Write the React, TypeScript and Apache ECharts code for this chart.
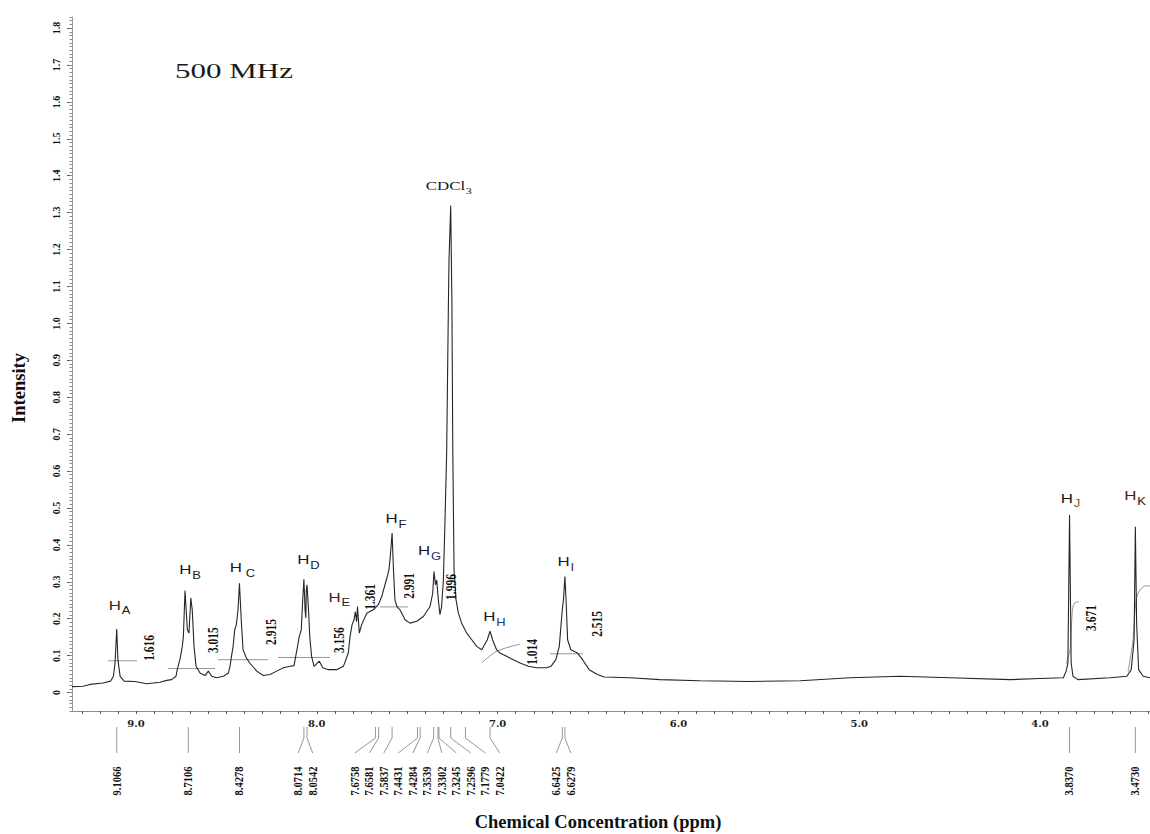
import React, { useEffect, useRef } from "react";
import * as echarts from "echarts";

// 1H NMR spectrum, 500 MHz in CDCl3: intensity against chemical shift (ppm)

const X_MIN = 3.392;
const X_MAX = 9.354;
const Y_MIN = -0.05;
const Y_MAX = 1.83;

// spectrum trace, [ppm, intensity], high field last
const traceHA: [number, number][] = [
  [9.354, 0.016], [9.293, 0.017], [9.254, 0.022], [9.183, 0.026], [9.166, 0.028],
  [9.14, 0.031], [9.125, 0.044], [9.116, 0.08], [9.1066, 0.172], [9.1, 0.089],
  [9.088, 0.044], [9.066, 0.031], [9.006, 0.03], [8.941, 0.024], [8.867, 0.028],
  [8.83, 0.033], [8.803, 0.035], [8.779, 0.044],
];
const traceHB: [number, number][] = [
  [8.772, 0.062], [8.757, 0.089], [8.744, 0.125], [8.738, 0.152], [8.729, 0.276],
  [8.716, 0.17], [8.707, 0.161], [8.697, 0.256], [8.689, 0.224], [8.679, 0.125],
  [8.668, 0.071], [8.646, 0.053], [8.618, 0.046], [8.6, 0.058], [8.581, 0.044],
  [8.554, 0.04], [8.517, 0.044], [8.489, 0.053], [8.48, 0.071],
];
const traceHC: [number, number][] = [
  [8.472, 0.098], [8.463, 0.125], [8.454, 0.17], [8.445, 0.184], [8.436, 0.224],
  [8.4278, 0.296], [8.418, 0.197], [8.408, 0.116], [8.39, 0.094], [8.371, 0.08],
  [8.332, 0.058], [8.296, 0.046], [8.259, 0.049], [8.222, 0.058], [8.185, 0.067],
  [8.148, 0.071],
];
const traceHD: [number, number][] = [
  [8.126, 0.073], [8.11, 0.116], [8.097, 0.152], [8.086, 0.17], [8.079, 0.242],
  [8.0714, 0.307], [8.065, 0.224], [8.061, 0.202], [8.058, 0.278], [8.0542, 0.292],
  [8.046, 0.224], [8.039, 0.152], [8.029, 0.098], [8.015, 0.071], [7.986, 0.085],
  [7.967, 0.067], [7.936, 0.062], [7.89, 0.062], [7.853, 0.071], [7.826, 0.107],
];
const traceAromatic: [number, number][] = [
  [7.816, 0.152], [7.805, 0.184], [7.794, 0.197], [7.787, 0.219], [7.78, 0.192],
  [7.775, 0.233], [7.765, 0.161], [7.752, 0.184], [7.724, 0.215], [7.688, 0.224],
  [7.66, 0.238], [7.641, 0.26], [7.623, 0.292], [7.612, 0.311], [7.601, 0.332],
  [7.593, 0.373], [7.5837, 0.432], [7.576, 0.332], [7.568, 0.251], [7.557, 0.233],
  [7.54, 0.224], [7.512, 0.197], [7.485, 0.188], [7.447, 0.193], [7.411, 0.206],
  [7.374, 0.233], [7.359, 0.269], [7.352, 0.328], [7.344, 0.292], [7.337, 0.305],
  [7.328, 0.251], [7.319, 0.211], [7.31, 0.233], [7.3, 0.305], [7.291, 0.468],
  [7.282, 0.649], [7.272, 1.062], [7.269, 1.17], [7.2596, 1.319], [7.253, 1.062],
  [7.248, 0.657], [7.241, 0.332], [7.23, 0.251], [7.217, 0.215], [7.199, 0.188],
  [7.171, 0.161], [7.143, 0.143], [7.116, 0.125], [7.088, 0.116], [7.057, 0.143],
  [7.0422, 0.166], [7.028, 0.143], [7.006, 0.116], [6.987, 0.107], [6.95, 0.098],
  [6.913, 0.089], [6.876, 0.08], [6.83, 0.071], [6.784, 0.067], [6.728, 0.067],
  [6.705, 0.071], [6.678, 0.089], [6.659, 0.125], [6.6425, 0.224], [6.636, 0.251],
  [6.6279, 0.314], [6.62, 0.233], [6.613, 0.143], [6.595, 0.116], [6.558, 0.107],
  [6.53, 0.089], [6.494, 0.062], [6.448, 0.049], [6.411, 0.042], [6.268, 0.04],
  [6.102, 0.035],
];
const traceBaseline: [number, number][] = [
  [5.881, 0.032], [5.605, 0.03], [5.327, 0.032], [5.051, 0.04], [4.774, 0.044],
  [4.498, 0.04], [4.166, 0.035], [4.0, 0.038], [3.871, 0.04],
];
const traceMethoxy: [number, number][] = [
  [3.856, 0.058], [3.846, 0.08], [3.837, 0.481], [3.828, 0.08], [3.818, 0.044],
  [3.791, 0.035], [3.613, 0.04], [3.52, 0.044], [3.496, 0.062], [3.48, 0.143],
  [3.473, 0.449], [3.466, 0.189], [3.455, 0.062], [3.43, 0.044], [3.392, 0.04],
];

// picked peak positions (ppm)
const peakPicks = [
  9.1066, 8.7106, 8.4278, 8.0714, 8.0542, 7.6758, 7.6581, 7.5837, 7.4431, 7.4284,
  7.3539, 7.3302, 7.3245, 7.2596, 7.1779, 7.0422, 6.6425, 6.6279, 3.837, 3.473,
];

// proton assignments and the shift of the peak each one labels
const protonLetters = ["A", "B", "C", "D", "E", "F", "G", "H", "I", "J", "K"];
const protonShifts = [9.1066, 8.729, 8.4278, 8.0714, 7.775, 7.5837, 7.352, 7.0422, 6.6279, 3.837, 3.473];
const solventShift = 7.2596;

// integral traces [ppm, level]
const integralA: [number, number][] = [[9.155, 0.086], [8.995, 0.086]];
const integralB: [number, number][] = [[8.823, 0.065], [8.563, 0.065]];
const integralC: [number, number][] = [[8.546, 0.089], [8.27, 0.089]];
const integralD: [number, number][] = [[8.215, 0.095], [7.927, 0.095]];
const integralF: [number, number][] = [[7.65, 0.232], [7.496, 0.232]];
const integralH: [number, number][] = [[7.088, 0.08], [7.005, 0.112], [6.876, 0.131]];
const integralI: [number, number][] = [[6.71, 0.105], [6.528, 0.105]];
const integralJ: [number, number][] = [[3.856, 0.078], [3.834, 0.116], [3.823, 0.211], [3.812, 0.241], [3.785, 0.246]];
const integralK: [number, number][] = [[3.513, 0.057], [3.486, 0.143], [3.469, 0.251], [3.447, 0.278], [3.414, 0.289], [3.392, 0.289]];

// integral values and where they are written [ppm, intensity]
const integralTexts = ["1.616", "3.015", "2.915", "3.156", "1.361", "2.991", "1.996", "1.014", "2.515", "3.671"];
const integralTextShifts = [8.928, 8.574, 8.253, 7.877, 7.706, 7.49, 7.258, 6.81, 6.45, 3.718];
const integralTextLevels = [0.121, 0.142, 0.164, 0.142, 0.259, 0.289, 0.286, 0.11, 0.186, 0.202];

// axis labels
const xLabelValues = [9, 8, 7, 6, 5, 4];
const yLabelValues = [0, 0.1, 0.2, 0.3, 0.4, 0.5, 0.6, 0.7, 0.8, 0.9, 1.0, 1.1, 1.2, 1.3, 1.4, 1.5, 1.6, 1.7, 1.8];

// label placement: H glyph offset from the peak top, in pixels
const protonLabelOffsets: Record<string, [number, number]> = {
  A: [-8, -24], B: [-5.7, -21.4], C: [-9.7, -16], D: [-6.7, -19.7], E: [-29, -9.7],
  F: [-6.6, -14.7], G: [-16, -21.4], H: [-6.7, -14.7], I: [-7.3, -15], J: [-8.7, -17], K: [-11, -31.4],
};
const protonSubColors: Record<string, string> = {
  G: "#1d3566", H: "#1d3566", I: "#5a1d1d", J: "#7a5a1a",
};
const protonHColors: Record<string, string> = {
  A: "#4a1c1c", E: "#4a1c1c", K: "#4a1c1c",
};

const spectrum: [number, number][] = [
  ...traceHA, ...traceHB, ...traceHC, ...traceHD, ...traceAromatic, ...traceBaseline, ...traceMethoxy,
];
const integralTraces = [integralA, integralB, integralC, integralD, integralF, integralH, integralI, integralJ, integralK];

const heightAt = (ppm: number) => {
  const hit = spectrum.find((p) => Math.abs(p[0] - ppm) < 1e-9);
  return hit ? hit[1] : 0;
};

// pushes crowded label slots apart, keeping each cluster centred on its peaks
function spreadSlots(ideal: number[], gap: number): number[] {
  let groups = ideal.map((x, i) => ({ start: x, n: 1, sum: x, first: i }));
  let changed = true;
  while (changed) {
    changed = false;
    for (let i = 0; i < groups.length - 1; i++) {
      const a = groups[i];
      const b = groups[i + 1];
      if (a.start + a.n * gap > b.start + 1e-6) {
        const n = a.n + b.n;
        const sum = a.sum + b.sum;
        groups.splice(i, 2, { start: (sum - (gap * n * (n - 1)) / 2) / n, n, sum, first: a.first });
        changed = true;
        break;
      }
    }
  }
  const out: number[] = new Array(ideal.length);
  groups.forEach((g) => {
    for (let k = 0; k < g.n; k++) out[g.first + k] = g.start + k * gap;
  });
  return out;
}

const SERIF = '"Liberation Serif", "Times New Roman", serif';
const SANS = '"Liberation Sans", Arial, sans-serif';

const textStyle = (text: string, font: string, fill: string, align = "center", valign = "middle") => ({
  text,
  font,
  fill,
  textAlign: align,
  align,
  textVerticalAlign: valign,
  verticalAlign: valign,
});

export default function App() {
  const ref = useRef<HTMLDivElement>(null);

  useEffect(() => {
    if (!ref.current) return;
    const chart = echarts.init(ref.current, undefined, { renderer: "svg" });

    const xTicks: number[] = [];
    for (let t = 34; t <= 93; t++) xTicks.push(t / 10);
    const yMinorTicks: number[] = [];
    for (let t = -5; t <= 183; t++) yMinorTicks.push(t / 100);

    const option: any = {
      animation: false,
      backgroundColor: "#ffffff",
      grid: { left: 72, right: 0, top: 17, bottom: 123 },
      xAxis: {
        type: "value",
        inverse: true,
        min: X_MIN,
        max: X_MAX,
        splitLine: { show: false },
        axisLine: { onZero: false, lineStyle: { color: "#8c8c8c", width: 1 } },
        axisTick: { customValues: xTicks, length: 3, lineStyle: { color: "#555" } },
        axisLabel: {
          customValues: xLabelValues,
          formatter: (v: number) => v.toFixed(1),
          margin: 7,
          fontFamily: '"DejaVu Serif", serif',
          fontWeight: "bold",
          fontSize: 10,
          color: "#222",
          hideOverlap: false,
        },
      },
      yAxis: [
        {
          type: "value",
          min: Y_MIN,
          max: Y_MAX,
          splitLine: { show: false },
          axisLine: { show: true, onZero: false, lineStyle: { color: "#9a9a9a", width: 1 } },
          axisTick: { customValues: yLabelValues, length: 5, lineStyle: { color: "#555" } },
          axisLabel: {
            customValues: yLabelValues,
            rotate: 90,
            margin: 11,
            formatter: (v: number) => (v === 0 ? "0" : v.toFixed(1)),
            fontFamily: SERIF,
            fontWeight: "bold",
            fontSize: 10,
            color: "#111",
            hideOverlap: false,
          },
        },
        {
          type: "value",
          position: "left",
          min: Y_MIN,
          max: Y_MAX,
          splitLine: { show: false },
          axisLine: { show: false },
          axisTick: { customValues: yMinorTicks, length: 2.5, lineStyle: { color: "#8a8a8a" } },
          axisLabel: { show: false },
        },
      ],
      graphic: [
        {
          type: "text",
          x: 175,
          y: 71,
          scaleX: 1.41,
          style: textStyle("500 MHz", `22px ${SERIF}`, "#1a1a1a", "left"),
        },
        {
          type: "text",
          x: 19,
          y: 388,
          rotation: Math.PI / 2,
          style: textStyle("Intensity", `bold 18.5px ${SERIF}`, "#111"),
        },
        {
          type: "text",
          x: 598,
          y: 822,
          style: textStyle("Chemical Concentration (ppm)", `bold 18.5px ${SERIF}`, "#111"),
        },
      ],
      series: [
        {
          type: "line",
          data: spectrum,
          showSymbol: false,
          symbol: "none",
          lineStyle: { color: "#262626", width: 1.1 },
          silent: true,
          z: 3,
        },
        ...integralTraces.map((tr) => ({
          type: "line",
          data: tr,
          showSymbol: false,
          symbol: "none",
          smooth: tr.length > 2 ? 0.3 : false,
          lineStyle: { color: "#7a7a7a", width: 0.8 },
          silent: true,
          z: 2,
        })),
        // proton assignment labels above the peaks
        {
          type: "custom",
          coordinateSystem: "cartesian2d",
          clip: false,
          silent: true,
          z: 5,
          encode: { x: 0, y: 1 },
          data: protonLetters.map((_, i) => [protonShifts[i], heightAt(protonShifts[i])]),
          renderItem: (params: any, api: any) => {
            const i = params.dataIndex;
            const letter = protonLetters[i];
            const pt = api.coord([api.value(0), api.value(1)]);
            const [dx, dy] = protonLabelOffsets[letter];
            const gap = letter === "C" ? 16 : 13;
            return {
              type: "group",
              children: [
                {
                  type: "text",
                  x: pt[0] + dx,
                  y: pt[1] + dy,
                  scaleX: 1.3,
                  style: textStyle("H", `13px ${SANS}`, protonHColors[letter] || "#1a1a1a", "left"),
                },
                {
                  type: "text",
                  x: pt[0] + dx + gap,
                  y: pt[1] + dy + 6,
                  scaleX: 1.3,
                  style: textStyle(letter, `10px ${SANS}`, protonSubColors[letter] || "#1a1a1a", "left"),
                },
              ],
            };
          },
        },
        // solvent label
        {
          type: "custom",
          coordinateSystem: "cartesian2d",
          clip: false,
          silent: true,
          z: 5,
          encode: { x: 0, y: 1 },
          data: [[solventShift, heightAt(solventShift)]],
          renderItem: (_params: any, api: any) => {
            const pt = api.coord([api.value(0), api.value(1)]);
            return {
              type: "group",
              children: [
                {
                  type: "text",
                  x: pt[0] + 14.5,
                  y: pt[1] - 20,
                  scaleX: 1.35,
                  style: textStyle("CDCl", `12.5px ${SERIF}`, "#1a1a1a", "right"),
                },
                {
                  type: "text",
                  x: pt[0] + 15,
                  y: pt[1] - 15.5,
                  scaleX: 1.35,
                  style: textStyle("3", `9px ${SERIF}`, "#1a1a1a", "left"),
                },
              ],
            };
          },
        },
        // integral values
        {
          type: "custom",
          coordinateSystem: "cartesian2d",
          clip: false,
          silent: true,
          z: 6,
          encode: { x: 0, y: 1 },
          data: integralTexts.map((_, i) => [integralTextShifts[i], integralTextLevels[i]]),
          renderItem: (params: any, api: any) => {
            const pt = api.coord([api.value(0), api.value(1)]);
            return {
              type: "text",
              x: pt[0],
              y: pt[1],
              rotation: Math.PI / 2,
              scaleY: 1.3,
              style: textStyle(integralTexts[params.dataIndex], `bold 11.5px ${SERIF}`, "#111"),
            };
          },
        },
        // peak picking marks under the shift axis
        {
          type: "custom",
          coordinateSystem: "cartesian2d",
          clip: false,
          silent: true,
          z: 5,
          encode: { x: 0, y: 1 },
          data: peakPicks.map((p) => [p, Y_MIN]),
          renderItem: (params: any, api: any) => {
            const i = params.dataIndex;
            const ideal = peakPicks.map((p) => api.coord([p, Y_MIN])[0]);
            const slots = spreadSlots(ideal, 14.5);
            const yAx = api.coord([peakPicks[i], Y_MIN])[1];
            const x0 = ideal[i];
            const x1 = slots[i];
            return {
              type: "group",
              children: [
                {
                  type: "polyline",
                  shape: { points: [[x0, yAx + 16], [x0, yAx + 27], [x1, yAx + 42]] },
                  style: { stroke: "#8a8a8a", lineWidth: 0.9, fill: "none" },
                },
                {
                  type: "text",
                  x: x1,
                  y: yAx + 70,
                  rotation: Math.PI / 2,
                  scaleY: 1.2,
                  style: textStyle(peakPicks[i].toFixed(4), `bold 10.5px ${SERIF}`, "#111"),
                },
              ],
            };
          },
        },
      ],
    };

    chart.setOption(option);
    return () => chart.dispose();
  }, []);

  return (
    <div
      ref={ref}
      style={{ position: "fixed", left: 0, top: 0, width: 1150, height: 834, background: "#fff" }}
    />
  );
}
